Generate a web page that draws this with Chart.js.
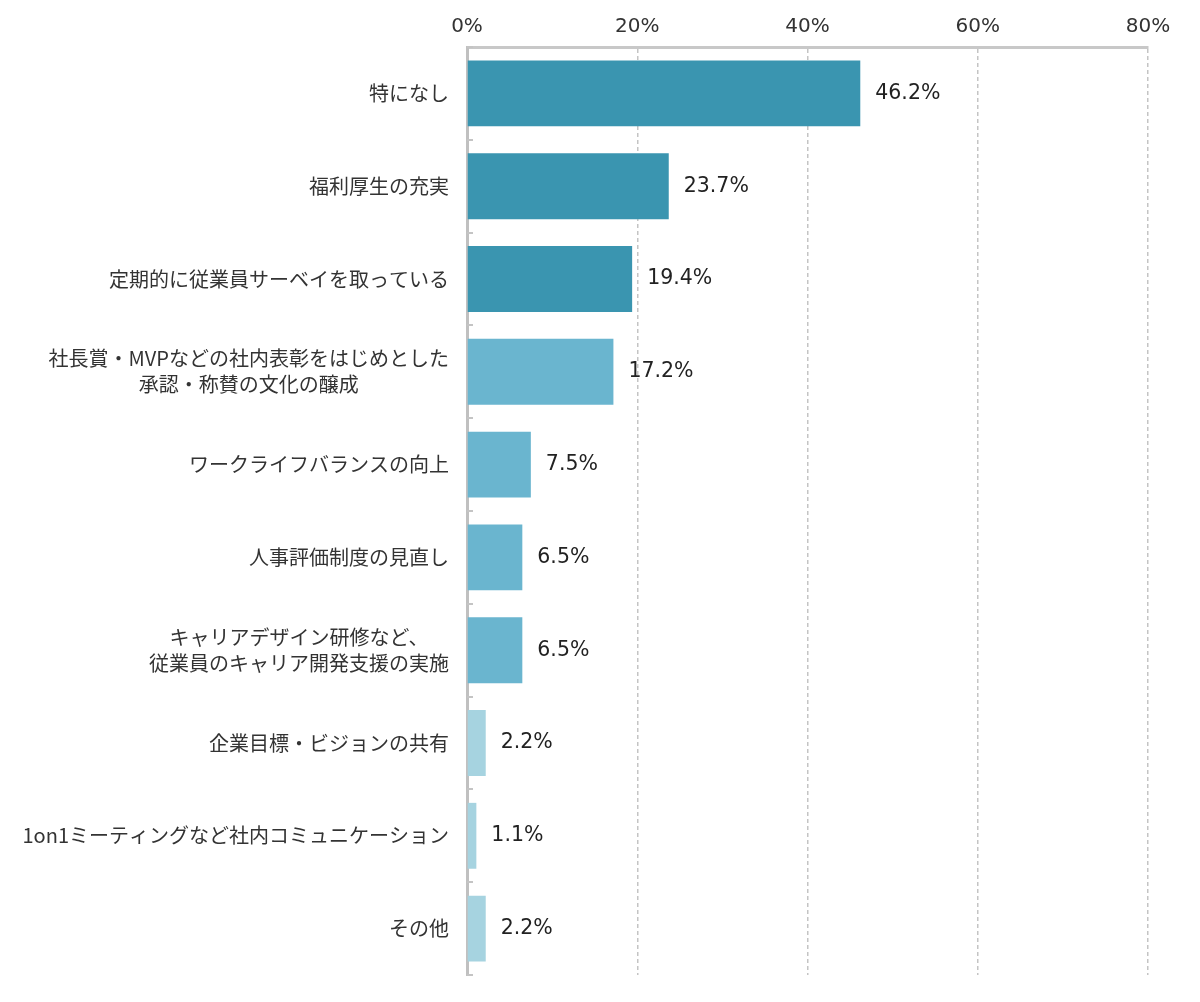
<!DOCTYPE html>
<html>
<head>
<meta charset="utf-8">
<script src="https://cdn.jsdelivr.net/npm/chart.js@4"></script>
<style>
  html, body { margin: 0; padding: 0; background: #fff; }
  #wrap { width: 1200px; height: 1002px; }
</style>
</head>
<body>
<div id="wrap"><canvas id="chart"></canvas></div>
<script>
const categories = [
  ["特になし"],
  ["福利厚生の充実"],
  ["定期的に従業員サーベイを取っている"],
  ["社長賞・MVPなどの社内表彰をはじめとした", "承認・称賛の文化の醸成"],
  ["ワークライフバランスの向上"],
  ["人事評価制度の見直し"],
  ["キャリアデザイン研修など、", "従業員のキャリア開発支援の実施"],
  ["企業目標・ビジョンの共有"],
  ["1on1ミーティングなど社内コミュニケーション"],
  ["その他"]
]
const values = [46.2, 23.7, 19.4, 17.2, 7.5, 6.5, 6.5, 2.2, 1.1, 2.2]
const xTicks = [0, 20, 40, 60, 80]

const barColors = [
  '#3a95b0', '#3a95b0', '#3a95b0',
  '#6ab5cf', '#6ab5cf', '#6ab5cf', '#6ab5cf',
  '#a6d3e0', '#a6d3e0', '#a6d3e0'
]

const jpFont = '"Noto Sans CJK JP", "Noto Sans", sans-serif'
const numFont = '"DejaVu Sans", sans-serif'

// category labels, right-aligned block, lines centred inside the block
const labelPlugin = {
  id: 'labels',
  afterDraw(chart) {
    const ctx = chart.ctx
    const y = chart.scales.y
    const area = chart.chartArea
    ctx.save()
    ctx.font = '20px ' + jpFont
    ctx.fillStyle = '#333'
    ctx.textAlign = 'center'
    ctx.textBaseline = 'middle'
    categories.forEach((lines, i) => {
      const cy = y.getPixelForValue(i)
      const w = Math.max(...lines.map(l => ctx.measureText(l).width))
      const cx = area.left - 18 - w / 2
      const lh = 26
      const start = cy - (lines.length - 1) * lh / 2
      lines.forEach((l, j) => ctx.fillText(l, cx, start + j * lh))
    })
    // small ticks between categories
    ctx.strokeStyle = '#c4c4c4'
    ctx.lineWidth = 2
    for (let i = 0; i <= categories.length; i++) {
      const ty = Math.round(y.getPixelForValue(i - 0.5))
      ctx.beginPath()
      ctx.moveTo(area.left, ty)
      ctx.lineTo(area.left + 6, ty)
      ctx.stroke()
    }
    ctx.restore()
  },
  afterDatasetsDraw(chart) {
    const ctx = chart.ctx
    const meta = chart.getDatasetMeta(0)
    ctx.save()
    ctx.font = '20.5px ' + numFont
    ctx.fillStyle = '#222'
    ctx.textAlign = 'left'
    ctx.textBaseline = 'middle'
    meta.data.forEach((bar, i) => {
      ctx.fillText(values[i].toFixed(1) + '%', bar.x + 15, bar.y)
    })
    ctx.restore()
  }
}

new Chart(document.getElementById('chart'), {
  type: 'bar',
  data: {
    labels: categories.map(c => c.join('')),
    datasets: [{
      data: values,
      backgroundColor: barColors,
      borderWidth: 0,
      barPercentage: 0.71,
      categoryPercentage: 1
    }]
  },
  options: {
    indexAxis: 'y',
    responsive: true,
    maintainAspectRatio: false,
    animation: false,
    layout: { padding: { left: 467, right: 52, top: 7, bottom: 27 } },
    plugins: {
      legend: { display: false },
      tooltip: { enabled: false }
    },
    scales: {
      x: {
        position: 'top',
        min: 0,
        max: 80,
        afterBuildTicks: scale => { scale.ticks = xTicks.map(v => ({ value: v })) },
        ticks: {
          padding: 8,
          color: '#333',
          font: { size: 20, family: numFont },
          callback: v => v + '%'
        },
        grid: {
          drawTicks: false,
          color: '#c4c4c4',
          lineWidth: 1.5
        },
        border: { display: true, color: '#c8c8c8', width: 3, dash: [4, 3] }
      },
      y: {
        ticks: { display: false },
        grid: { display: false, drawTicks: false },
        border: { display: true, color: '#c0c0c0', width: 3 }
      }
    }
  },
  plugins: [labelPlugin]
})
</script>
</body>
</html>
